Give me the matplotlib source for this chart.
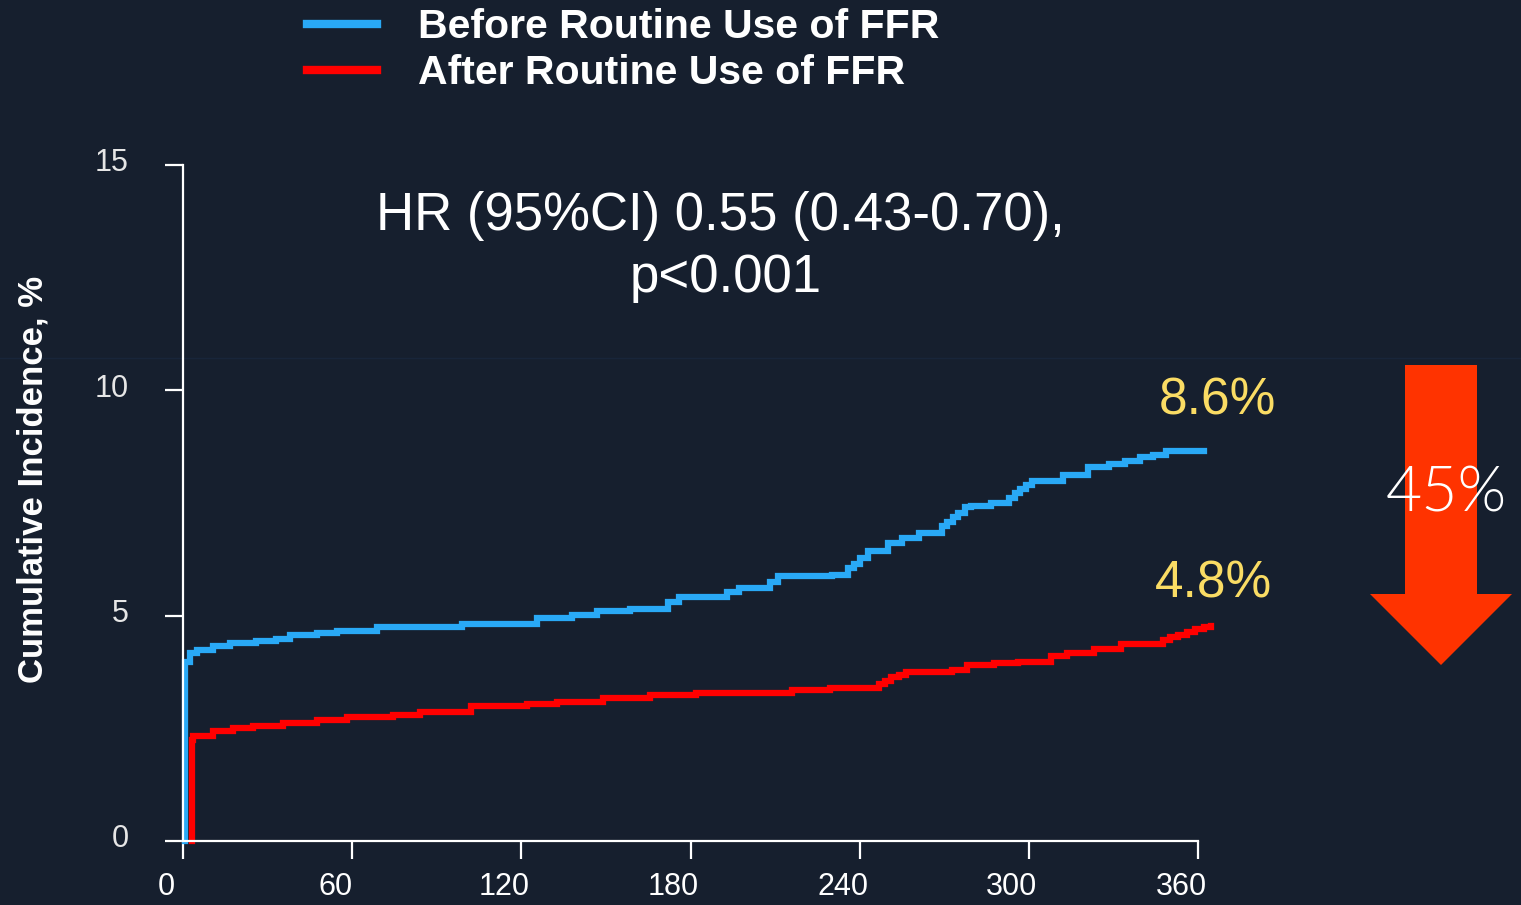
import matplotlib
matplotlib.use("Agg")
import matplotlib.pyplot as plt
import matplotlib.transforms as mtransforms
from matplotlib.lines import Line2D
from matplotlib.patches import Polygon

# Data (days, cumulative incidence %)
before_days = [0.7, 0.7, 2.5, 5, 10.6, 16.7, 26, 33, 38, 47.5, 54.6, 68.8, 99, 125.5, 138,
               146.8, 158.6, 172, 176, 193, 197, 208, 211, 230, 236, 238, 240, 243, 250,
               255, 261, 269, 271, 273, 275, 277.5, 279.5, 286.5, 293, 295, 297, 299, 301,
               312, 321, 328.5, 334, 339.5, 344, 348.5, 362]
before_pct = [0, 3.98, 4.18, 4.24, 4.32, 4.40, 4.43, 4.49, 4.58, 4.62, 4.67, 4.75, 4.82, 4.95,
              5.02, 5.10, 5.15, 5.30, 5.42, 5.52, 5.62, 5.75, 5.87, 5.91, 6.05, 6.15, 6.28,
              6.43, 6.62, 6.72, 6.84, 6.98, 7.08, 7.18, 7.28, 7.40, 7.43, 7.51, 7.62, 7.72,
              7.82, 7.90, 7.98, 8.13, 8.29, 8.36, 8.43, 8.51, 8.56, 8.65, 8.65]

after_days = [3.1, 3.1, 3.6, 10.6, 17.7, 24.8, 35.5, 47.5, 58, 74.5, 84, 102, 122, 132.7, 149,
              165.7, 182, 216, 229.5, 247, 249, 251, 254, 256.5, 272.8, 278, 287.7, 296, 308,
              313.6, 323, 332.6, 347.6, 350, 353, 356, 359, 362, 364.5]
after_pct = [0, 2.24, 2.32, 2.43, 2.51, 2.55, 2.62, 2.69, 2.75, 2.80, 2.87, 3.00, 3.04, 3.09,
             3.17, 3.24, 3.28, 3.34, 3.39, 3.48, 3.56, 3.63, 3.69, 3.74, 3.80, 3.91, 3.94,
             3.98, 4.10, 4.17, 4.26, 4.36, 4.45, 4.52, 4.58, 4.64, 4.70, 4.74, 4.77]

labels = ["Before Routine Use of FFR", "After Routine Use of FFR"]
x_ticks = [0, 60, 120, 180, 240, 300, 360]
y_ticks = [0, 5, 10, 15]
end_labels = ["8.6%", "4.8%"]

bg = "#161f2e"
blue = "#29a9f6"
red = "#ff0000"
yellow = "#fadc64"

plt.rcParams["font.family"] = ["Liberation Sans", "DejaVu Sans"]

fig = plt.figure(figsize=(15.21, 9.05), dpi=100, facecolor=bg)
ax = fig.add_axes([0.1111, 0.04586, 0.7044, 0.7868], facecolor="none")

# faint slide seam, behind everything
fig.add_artist(Line2D([0, 1], [1 - 358 / 905] * 2, transform=fig.transFigure,
                      color="#18253a", lw=1.0, zorder=-5))

l1, = ax.plot(before_days, before_pct, drawstyle="steps-post", color=blue, lw=4.5,
              solid_joinstyle="miter")
l2, = ax.plot(after_days, after_pct, drawstyle="steps-post", color=red, lw=4.5,
              solid_joinstyle="miter")

ax.set_xlim(-5, 375)
ax.set_ylim(-0.5, 15.3)
for s in ["top", "right"]:
    ax.spines[s].set_visible(False)
ax.spines["left"].set_position(("data", 0))
ax.spines["bottom"].set_position(("data", 0))
ax.spines["left"].set_bounds(0, 15)
ax.spines["bottom"].set_bounds(0, 360)
for s in ["left", "bottom"]:
    ax.spines[s].set_color("white")
    ax.spines[s].set_linewidth(1.6)

ax.set_xticks(x_ticks)
ax.set_yticks(y_ticks)
ax.tick_params(axis="both", direction="out", length=13, width=1.6, color="white",
               labelcolor="white", labelsize=22)
ax.tick_params(axis="x", pad=9)
ax.tick_params(axis="y", pad=26, labelcolor="#e6e6e6")

shift_x = mtransforms.ScaledTranslation(-0.17, 0, fig.dpi_scale_trans)
for lab in ax.get_xticklabels():
    lab.set_transform(lab.get_transform() + shift_x)
shift_y = mtransforms.ScaledTranslation(0, 0.05, fig.dpi_scale_trans)
for lab in ax.get_yticklabels():
    lab.set_transform(lab.get_transform() + shift_y)

fig.text(33 / 1521, 1 - 479 / 905, "Cumulative Incidence, %", rotation=90,
         ha="center", va="center", color="white", fontsize=25, fontweight="bold")

leg = fig.legend([l1, l2], labels, loc="upper left",
                 bbox_to_anchor=(307 / 1521, 1 - 8 / 905), frameon=False,
                 prop={"size": 29.5, "weight": "bold"}, handlelength=1.72,
                 handletextpad=1.0, labelspacing=0.2, borderpad=0, borderaxespad=0)
for t in leg.get_texts():
    t.set_color("white")
for h in leg.legend_handles:
    h.set_linewidth(6)

fig.text(720 / 1521, 1 - 216 / 905, "HR (95%CI) 0.55 (0.43-0.70),", ha="center",
         va="center", color="white", fontsize=38)
fig.text(726 / 1521, 1 - 278 / 905, "p<0.001", ha="center", va="center",
         color="white", fontsize=38)

fig.text(1217 / 1521, 1 - 401 / 905, end_labels[0], ha="center", va="center",
         color=yellow, fontsize=37)
fig.text(1214 / 1521, 1 - 584 / 905, end_labels[1], ha="center", va="center",
         color=yellow, fontsize=37)

arrow_px = [(1405, 365), (1477, 365), (1477, 594), (1512, 594), (1441, 665),
            (1370, 594), (1405, 594)]
arrow = Polygon([(x / 1521, 1 - y / 905) for x, y in arrow_px], closed=True,
                transform=fig.transFigure, facecolor="#ff3300", edgecolor="none")
fig.add_artist(arrow)

fig.text(1446 / 1521, 1 - 494 / 905, "45%", ha="center", va="center", color="white",
         fontsize=45, family=["Lato", "DejaVu Sans"], fontweight=300)

fig.savefig("out.png", dpi=100, facecolor=bg)
